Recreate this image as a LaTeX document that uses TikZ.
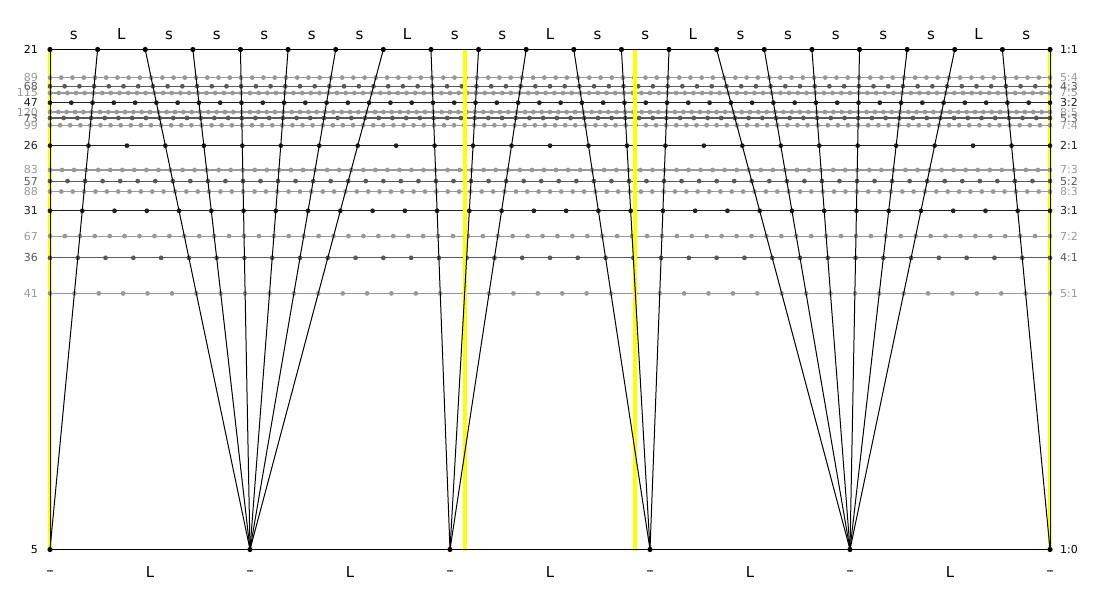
\documentclass[tikz,border=0pt]{standalone}
\usepackage{fontspec}
\setmainfont{DejaVu Sans}
\usetikzlibrary{positioning}

\colorlet{darkline}{black!87}
\colorlet{midline}{black!65}
\colorlet{paleline}{black!40}
\definecolor{fifthmark}{RGB}{255,255,0}

\tikzset{
  ratioline/.style={line width=1.1pt},
  rim/.style={line width=1.3pt, black},
  chord/.style={line width=1pt, black},
  marker/.style={line width=3.2pt, fifthmark},
  stepname/.style={font=\fontsize{15}{15}\selectfont, anchor=base, inner sep=0pt},
  edgelabel/.style={font=\fontsize{11}{11}\selectfont, inner sep=0pt},
}

\begin{document}
\begin{tikzpicture}[x=1pt, y=-1pt]
  \useasboundingbox (0,0) rectangle (1100,600);

  % 21 steps on top, 5 on the bottom
  \foreach \k in {0,...,21}
    \coordinate (t\k) at ({50+1000*(\k/21)}, 49.5);
  \foreach \n in {0,...,5}
    \coordinate (b\n) at ({50+200*\n}, 549.5);

  % yellow guides: 1/1, 4/3, 3/2, 2/1
  \foreach \m/\x in {0/0, 1/0.41504, 2/0.58496, 3/1} {
    \coordinate (mt\m) at ({50+1000*\x}, 49.5);
    \coordinate (mb\m) at ({50+1000*\x}, 551);
  }
  \draw[marker] (mt0) -- (mb0);
  \draw[marker] (mt3) -- (mb3);

  % one line per L:s ratio
  \foreach \a/\b/\tone in {5/4/paleline, 4/3/midline, 7/5/paleline, 3/2/darkline,
      8/5/paleline, 5/3/midline, 7/4/paleline, 2/1/darkline, 7/3/paleline,
      5/2/midline, 8/3/paleline, 3/1/darkline, 7/2/paleline, 4/1/midline,
      5/1/paleline} {
    \pgfmathtruncatemacro\edo{5*\a+16*\b}
    \pgfmathsetmacro\ypos{549.5-500*(21*\b/\edo)}
    \coordinate (l\edo) at (50,\ypos);
    \coordinate (r\edo) at (1050,\ypos);
    \draw[ratioline, \tone] (l\edo) -- (r\edo);
    \foreach \i in {0,...,\edo}
      \fill[\tone] ({50+1000*(\i/\edo)},\ypos) circle[radius=2.4pt];
    \node[edgelabel, text=\tone, left=12pt of l\edo] (edo\edo) {\edo};
    \node[edgelabel, text=\tone, right=10pt of r\edo] (ratio\edo) {\a:\b};
  }

  \draw[marker] (mt1) -- (mb1);
  \draw[marker] (mt2) -- (mb2);

  % each note from 5L16s down to 5edo
  \foreach \k/\n in {0/0,1/0,2/1,3/1,4/1,5/1,6/1,7/1,8/2,9/2,10/2,
      11/3,12/3,13/3,14/4,15/4,16/4,17/4,18/4,19/4,20/5,21/5}
    \draw[chord] (t\k) -- (b\n);

  \draw[rim] (t0) -- (t21);
  \draw[rim] (b0) -- (b5);
  \foreach \k in {0,...,21}
    \fill (t\k) circle[radius=2.6pt];
  \foreach \n in {0,...,5}
    \fill (b\n) circle[radius=2.6pt];

  \node[edgelabel, left=12pt of t0] (edo21) {21};
  \node[edgelabel, right=10pt of t21] (ratio21) {1:1};
  \node[edgelabel, left=12pt of b0] (edo5) {5};
  \node[edgelabel, right=10pt of b5] (ratio5) {1:0};

  % step names
  \foreach \st [count=\k] in {s,L,s,s,s,s,s,L,s,s,L,s,s,L,s,s,s,s,s,L,s}
    \node[stepname] (step\k) at ({50+1000*((\k-0.5)/21)}, 39) {\st};
  \foreach \n in {0,...,5}
    \node[stepname] (dash\n) at (b\n |- 0,575.5) {\textendash};
  \foreach \n in {1,...,5}
    \node[stepname] (big\n) at ({200*\n-50}, 577.5) {L};
\end{tikzpicture}
\end{document}
